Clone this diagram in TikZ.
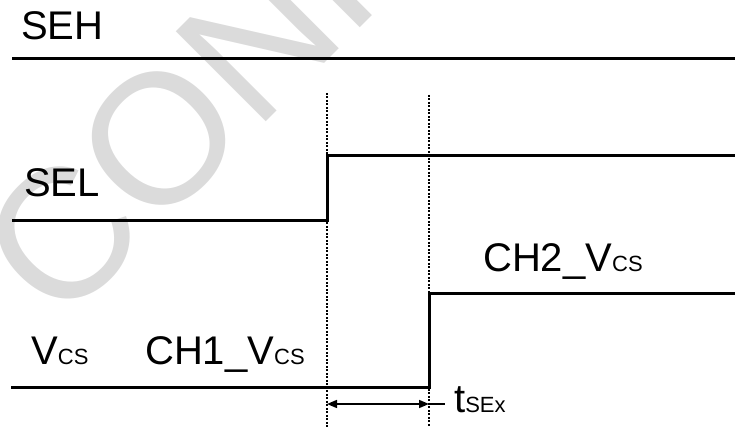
\documentclass[tikz,border=0pt]{standalone}
\usepackage{fontspec}
\setmainfont{Liberation Sans}
\usetikzlibrary{arrows.meta,positioning}
\newcommand{\subtxt}[1]{{\fontsize{22}{22}\selectfont #1}}

\begin{document}
\begin{tikzpicture}[
            x=1pt, y=1pt,
            signal/.style={line width=3pt},
            guide/.style={line width=1.2pt, dash pattern=on 2pt off 1.5pt},
            arrow/.style={{Triangle[length=10pt,width=8pt]}-{Triangle[length=10pt,width=8pt]}, line width=1.5pt},
            lbl/.style={anchor=base west, inner sep=0pt, font=\fontsize{40}{40}\selectfont},
            wmark/.style={anchor=base west, inner sep=0pt, rotate=45, text=black!14, font=\fontsize{185}{185}\selectfont}
        ]

        \useasboundingbox (0,0) rectangle (735,427);
        \clip (0,0) rectangle (735,427);

        % watermark
        \node[wmark] (wm) at (59,98) {CONFIDENTIAL};

        % SEH
        \coordinate (seh0) at (12,368);
        \coordinate (seh1) at (735,368);
        \draw[signal] (seh0) -- (seh1);
        \node[lbl] (sehlbl) at (21,387) {SEH};

        % guides
        \coordinate (g1top) at (327,334);
        \coordinate (g1bot) at (327,0);
        \coordinate (g2top) at (429,332);
        \coordinate (g2bot) at (429,0);
        \draw[guide] (g1top) -- (g1bot);
        \draw[guide] (g2top) -- (g2bot);

        % SEL
        \coordinate (sel0) at (12,206);
        \coordinate (sel1) at (327,206);
        \coordinate (sel2) at (735,271);
        \draw[signal] (sel0) -- (sel1) |- (sel2);
        \node[lbl] (sellbl) at (24,230) {SEL};

        % Vcs
        \coordinate (vcs0) at (11,39);
        \coordinate (vcs1) at (429,39);
        \coordinate (vcs2) at (735,133);
        \draw[signal] (vcs0) -- (vcs1) |- (vcs2);
        \node[lbl] (vcslbl) at (31,62) {V\subtxt{CS}};
        \node[lbl] (ch1) at (145,62) {CH1\_V\subtxt{CS}};
        \node[lbl] (ch2) at (483,155) {CH2\_V\subtxt{CS}};

        % tSEx
        \coordinate (t0) at (327,23);
        \coordinate (t1) at (429,23);
        \coordinate (t2) at (445,23);
        \draw[arrow] (t0) -- (t1);
        \draw[line width=1.5pt] (t1) -- (t2);
        \node[lbl] (tsex) at (454,14) {t\subtxt{SEx}};

    \end{tikzpicture}
\end{document}
